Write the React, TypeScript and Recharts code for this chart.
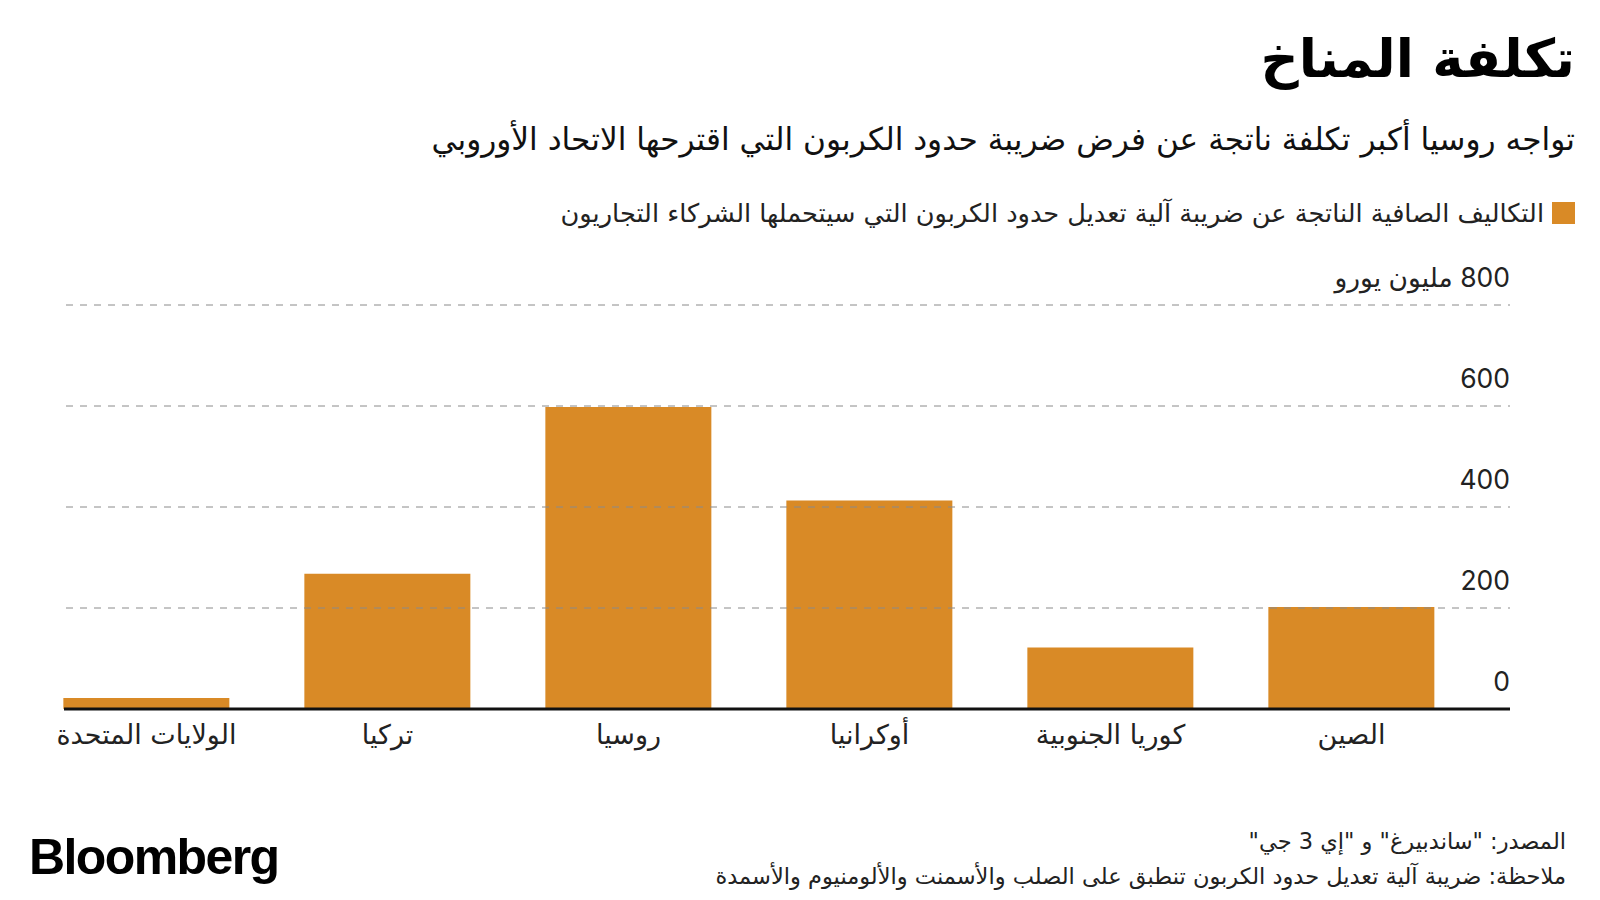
import { BarChart, Bar, XAxis, YAxis, ReferenceLine } from 'recharts'

const categories = ['الصين', 'كوريا الجنوبية', 'أوكرانيا', 'روسيا', 'تركيا', 'الولايات المتحدة']
const netCosts = [202, 122, 413, 598, 268, 22]
const yTicks = [0, 200, 400, 600, 800]
const gridValues = [200, 400, 600, 800]

const BAR_COLOR = '#D98A26'
const ARABIC = '"DejaVu Sans", sans-serif'
const NUM = 'Inter, "DejaVu Sans", sans-serif'

const data = categories.map((name, i) => ({ name, cost: netCosts[i] }))

// grid and baseline run wider than the category bands
const GRID_LEFT = 66
const GRID_RIGHT = 1510

function YTick(props: any) {
  const { y, payload } = props
  const label = payload.value === 800 ? '\u202B800 مليون يورو\u202C' : String(payload.value)
  return (
    <text x={GRID_RIGHT} y={y - 18} textAnchor="end" fontSize={26.5} fontFamily={NUM} fill="#222">
      {label}
    </text>
  )
}

function XTick(props: any) {
  const { x, y, payload } = props
  return (
    <text x={x} y={y + 27} textAnchor="middle" fontSize={27} fontFamily={ARABIC} fill="#222">
      {payload.value}
    </text>
  )
}

function GridShape(props: any) {
  return (
    <line x1={GRID_LEFT} x2={GRID_RIGHT} y1={props.y1} y2={props.y2} stroke="#8a8a8a" strokeWidth={1} strokeDasharray="7 7" />
  )
}

function BaseShape(props: any) {
  return <line x1={64} x2={GRID_RIGHT} y1={props.y1} y2={props.y2} stroke="#111" strokeWidth={3} />
}

export default function App() {
  return (
    <div style={{ position: 'absolute', left: 0, top: 0, width: 1600, height: 900, background: '#fff', overflow: 'hidden' }}>
      <div style={{ position: 'absolute', right: 25, top: 27, fontFamily: ARABIC, fontWeight: 700, fontSize: 53, lineHeight: 1.2, color: '#000' }} dir="rtl">
        تكلفة المناخ
      </div>
      <div style={{ position: 'absolute', right: 25, top: 119, fontFamily: ARABIC, fontSize: 31.2, lineHeight: 1.3, color: '#111' }} dir="rtl">
        تواجه روسيا أكبر تكلفة ناتجة عن فرض ضريبة حدود الكربون التي اقترحها الاتحاد الأوروبي
      </div>
      <div style={{ position: 'absolute', right: 25, top: 198, display: 'flex', alignItems: 'center', gap: 8, fontFamily: ARABIC, fontSize: 25.6, color: '#222' }} dir="rtl">
        <span style={{ width: 23, height: 22, background: BAR_COLOR, display: 'inline-block', flexShrink: 0 }} />
        <span>التكاليف الصافية الناتجة عن ضريبة آلية تعديل حدود الكربون التي سيتحملها الشركاء التجاريون</span>
      </div>

      <div style={{ position: 'absolute', left: 0, top: 0 }}>
        <BarChart width={1600} height={900} data={data} margin={{ top: 305, right: 0, bottom: 131, left: 26 }} barCategoryGap="15.5%">
          <XAxis dataKey="name" reversed axisLine={false} tickLine={false} height={60} tick={<XTick />} interval={0} />
          <YAxis orientation="right" width={128} domain={[0, 800]} ticks={yTicks} axisLine={false} tickLine={false} tick={<YTick />} />
          {gridValues.map((v) => (
            <ReferenceLine key={v} y={v} shape={<GridShape />} />
          ))}
          <Bar dataKey="cost" fill={BAR_COLOR} isAnimationActive={false} />
          <ReferenceLine y={0} shape={<BaseShape />} />
        </BarChart>
      </div>

      <div style={{ position: 'absolute', left: 29, top: 828, fontFamily: '"Liberation Sans", Arial, sans-serif', fontWeight: 700, fontSize: 50, letterSpacing: -1.6, color: '#000' }}>
        Bloomberg
      </div>
      <div style={{ position: 'absolute', right: 34, top: 824, fontFamily: ARABIC, fontSize: 22.5, lineHeight: '35px', color: '#222', textAlign: 'right' }} dir="rtl">
        <div>المصدر: "ساندبيرغ" و "إي 3 جي"</div>
        <div>ملاحظة: ضريبة  آلية تعديل حدود الكربون تنطبق على الصلب والأسمنت والألومنيوم والأسمدة</div>
      </div>
    </div>
  )
}
